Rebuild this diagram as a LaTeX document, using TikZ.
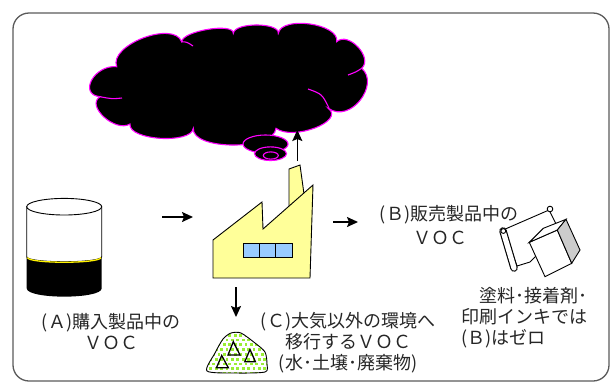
\documentclass[tikz,border=0pt]{standalone}
\usepackage{fontspec}
\newfontfamily\jpfont{Noto Sans CJK JP}
\usetikzlibrary{arrows.meta}

\definecolor{smokeline}{RGB}{255,0,255}
\definecolor{factoryyellow}{RGB}{255,255,153}
\definecolor{windowblue}{RGB}{153,204,255}
\definecolor{soilgreen}{RGB}{153,238,51}
\definecolor{framegray}{RGB}{90,90,90}

\begin{document}
\begin{tikzpicture}[x=1pt,y=-1pt,
  flow/.style={line width=1.6pt,-{Stealth[length=11pt,width=10pt,inset=2pt]}},
  smoke/.style={draw=smokeline,line width=1.1pt,fill=black},
  label/.style={font=\jpfont\fontsize{18}{21}\selectfont,text=black!85,inner sep=0pt},
  outline/.style={draw=black,line width=0.9pt}]
\useasboundingbox (0,0) rectangle (612,384);

% outer frame
\draw[framegray,line width=1.3pt,rounded corners=16pt] (13,13) rectangle (609,381);

% cloud of emitted VOC
\draw[smoke] (116.7,66.7)
  .. controls (94.5,64.4) and (77.8,94.4) .. (100,96.7)
  .. controls (85.3,105.6) and (115.3,132.9) .. (130,124)
  .. controls (127.8,140.2) and (191.1,144.5) .. (193.3,128.3)
  .. controls (191.5,150.6) and (274.2,150.6) .. (276,128.3)
  .. controls (293.1,141.2) and (345.4,121.2) .. (328.3,108.3)
  .. controls (351,123.9) and (380,83.9) .. (361.7,68.3)
  .. controls (373.4,57.6) and (348.4,31) .. (336.7,41.7)
  .. controls (340,23.7) and (281.6,15.3) .. (278.3,33.3)
  .. controls (279.5,22.2) and (234.5,22.2) .. (233.3,33.3)
  .. controls (234,22.4) and (182.4,30.8) .. (181.7,41.7)
  .. controls (173.4,20.1) and (108.4,45.1) .. (116.7,66.7) -- cycle;
\draw[smokeline,line width=1.1pt] (181.7,41.7) .. controls (187,42) .. (193,46);
\draw[smokeline,line width=1.1pt] (100,96.7) .. controls (112,99) .. (122,98);
\draw[smokeline,line width=1.1pt] (308,89) .. controls (322,94) .. (329,108);
\draw[smokeline,line width=1.1pt] (348,75) .. controls (356,72) .. (361.7,68.3);
% small puffs under the cloud
\draw[smoke] (265.5,144) ellipse [x radius=22.5,y radius=9];
\draw[smoke] (270.5,153.7) ellipse [x radius=16,y radius=6.8];
\draw[smoke] (270.8,155.5) ellipse [x radius=7.5,y radius=3.6];

% purchased product (drum)
\draw[outline,fill=white] (26.7,206.7) -- (26.7,256.7)
  .. controls (26.7,263.4) and (101.7,263.4) .. (101.7,256.7) -- (101.7,206.7) -- cycle;
\fill (26.7,256.7) .. controls (26.7,263.4) and (101.7,263.4) .. (101.7,256.7)
  -- (101.7,288.3) .. controls (101.7,299.4) and (26.7,299.4) .. (26.7,288.3) -- cycle;
\draw[yellow,line width=1.3pt] (27.5,257.5) .. controls (27.5,263.8) and (100.9,263.8) .. (100.9,257.5);
\draw[outline,fill=white] (64.2,206.7) ellipse [x radius=37.5,y radius=8.3];

% factory with chimney
\draw[outline,fill=factoryyellow] (289,207) -- (289,169) -- (300,165) -- (304,194);
\draw[outline,fill=factoryyellow] (213,278) -- (213,240) -- (262,202) -- (263,229)
  -- (313,185) -- (310,278) -- cycle;
\draw[outline,fill=windowblue] (243,243) rectangle (292,257);
\draw[outline] (259.3,243) -- (259.3,257) (275.7,243) -- (275.7,257);

% soil and water
\begin{scope}
  \clip plot[smooth cycle,tension=0.45] coordinates {(207,371) (215,353) (223,339)
    (231,333) (241,333) (255,343) (265,352) (267,364) (265,372) (236,373)};
  \foreach \i in {0,...,12}
    \foreach \j in {0,...,9}
      \fill[soilgreen] ({204+\i*5.4+mod(\j,2)*2.7},{329+\j*4.8}) rectangle +(2.8,2.8);
\end{scope}
\draw[outline] plot[smooth cycle,tension=0.45] coordinates {(207,371) (215,353) (223,339)
  (231,333) (241,333) (255,343) (265,352) (267,364) (265,372) (236,373)};
\draw[black,line width=1.3pt] (233.3,341.7) -- (228,355) -- (240,355) -- cycle;
\draw[black,line width=1.3pt] (250,349.5) -- (244.8,361.7) -- (255.4,361.7) -- cycle;
\draw[black,line width=1.3pt] (221.7,355.5) -- (216.5,367.7) -- (228.3,367.7) -- cycle;

% sold products: scroll and box
\draw[outline,fill=white] (503,230) -- (549,210) -- (560,232) -- (530,262) -- (517,266) -- cycle;
\draw[black,line width=7.5pt,line cap=round] (503,231) -- (514,268);
\draw[white,line width=5.2pt,line cap=round] (503,231) -- (514,268);
\draw[outline] (503.3,231) circle [radius=2.4];
\draw[outline,fill=white] (550,209) circle [radius=2.8];
\draw[outline,fill=white] (529.3,242.3) -- (557.3,230) -- (571.7,263.3) -- (545,276.7) -- cycle;
\draw[outline,fill=white] (529.3,242.3) -- (543.3,228.3) -- (566,219.3) -- (557.3,230) -- cycle;
\draw[outline,fill=black!20] (557.3,230) -- (566,219.3) -- (580,250) -- (571.7,263.3) -- cycle;

% flow arrows
\coordinate (inS) at (162,217);
\coordinate (inE) at (193,217);
\coordinate (outS) at (333,222);
\coordinate (outE) at (358,222);
\coordinate (upS) at (297.3,161);
\coordinate (upE) at (297.3,130);
\coordinate (downS) at (236,287);
\coordinate (downE) at (236,317);
\draw[flow] (inS) -- (inE);
\draw[flow] (outS) -- (outE);
\draw[flow] (upS) -- (upE);
\draw[flow] (downS) -- (downE);

% labels
\node[label,align=center] (bought) at (111,332) {(Ａ)購入製品中の\\ＶＯＣ};
\node[label,align=center] (sold) at (449,225) {(Ｂ)販売製品中の\\[3pt]ＶＯＣ\hspace*{18pt}};
\node[label,align=center] (other) at (348,343) {(Ｃ)大気以外の環境へ\\移行するＶＯＣ\\(水･土壌･廃棄物)};
\node[label,align=left,anchor=west] (zero) at (461,318) {\hspace*{18pt}塗料･接着剤･\\印刷インキでは\\(Ｂ)はゼロ};
\end{tikzpicture}
\end{document}
